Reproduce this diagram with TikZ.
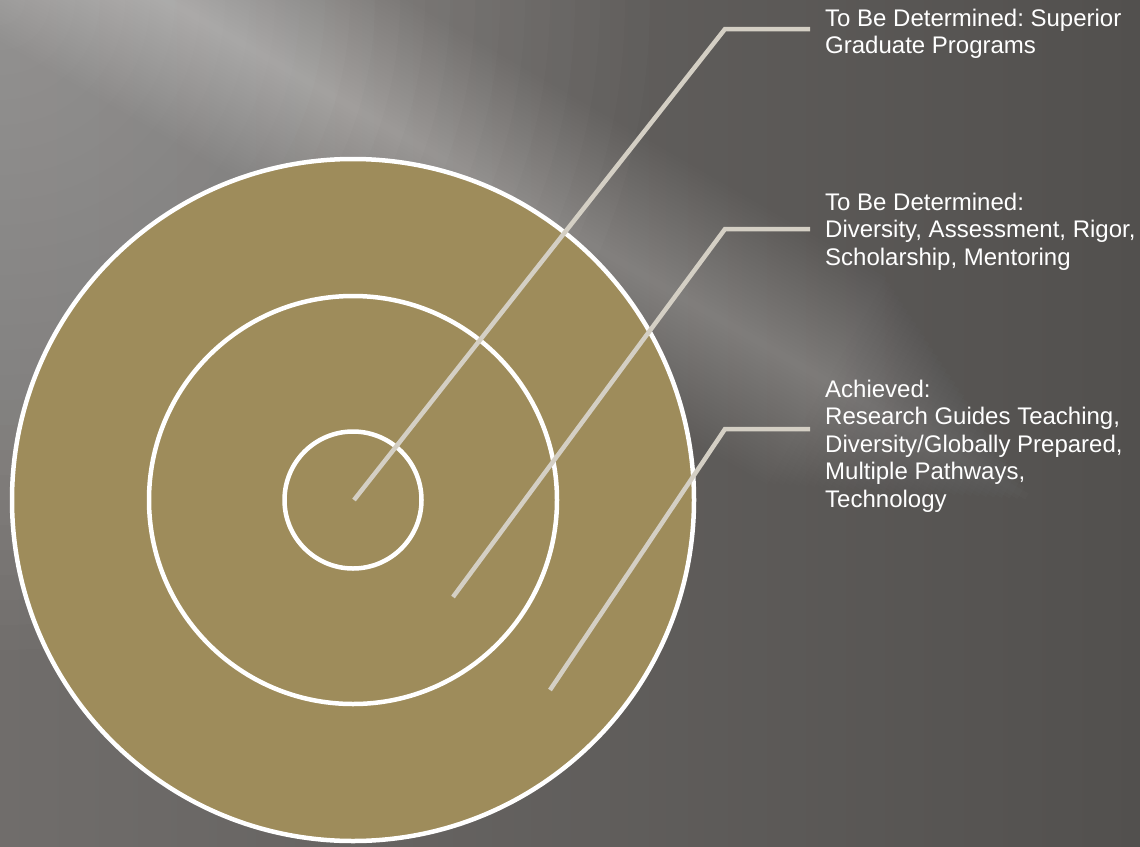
\documentclass[tikz,border=0pt]{standalone}
\usepackage{fontspec}
\setmainfont{Liberation Sans}
\frenchspacing
\definecolor{bgdark}{HTML}{52504E}
\definecolor{bgleft}{HTML}{706D6B}
\definecolor{gold}{HTML}{9E8C5B}
\definecolor{leader}{HTML}{D4CFC4}
\tikzset{
 ring/.style={circle, draw=white, line width=4.5pt, fill=gold, inner sep=0pt},
 leaderline/.style={draw=leader, line width=4.5pt},
 lbl/.style={anchor=north west, inner sep=0pt, align=left, text=white, font=\fontsize{24}{27.5}\selectfont},
}
\begin{document}
\begin{tikzpicture}[x=1pt,y=-1pt]
\useasboundingbox (0,0) rectangle (1140,846);
\shade[left color=bgleft, right color=bgdark] (0,0) rectangle (1140,846);
\begin{scope}
\clip (0,0) rectangle (1140,846);
\foreach \r in {25,50,...,650} \fill[white, opacity=0.014] (0,0) circle[radius=\r];
\foreach \w in {7,14,...,238} \fill[white, opacity=0.011, rotate around={-30:(600,250)}] (-200,250-\w/2) rectangle (1100-\w,250+\w/2);
\end{scope}
\node[ring, minimum size=682pt] (outer) at (353,500) {};
\node[ring, minimum size=408pt] (middle) at (353,500) {};
\node[ring, minimum size=137pt] (inner) at (353,500) {};
\node[lbl] (t1) at (825,8.8) {To Be Determined: Superior\\Graduate Programs};
\node[lbl] (t2) at (825,192.8) {To Be Determined:\\Diversity, Assessment, Rigor,\\Scholarship, Mentoring};
\node[lbl] (t3) at (825,379.5) {Achieved:\\Research Guides Teaching,\\Diversity/Globally Prepared,\\Multiple Pathways,\\Technology};
\coordinate (s1) at (354,500);
\coordinate (k1) at (725,29);
\coordinate (e1) at (810,29);
\coordinate (s2) at (453,597);
\coordinate (k2) at (725,229);
\coordinate (e2) at (810,229);
\coordinate (s3) at (550,690);
\coordinate (k3) at (725,429);
\coordinate (e3) at (810,429);
\draw[leaderline] (s1) -- (k1) -- (e1);
\draw[leaderline] (s2) -- (k2) -- (e2);
\draw[leaderline] (s3) -- (k3) -- (e3);
\end{tikzpicture}
\end{document}
